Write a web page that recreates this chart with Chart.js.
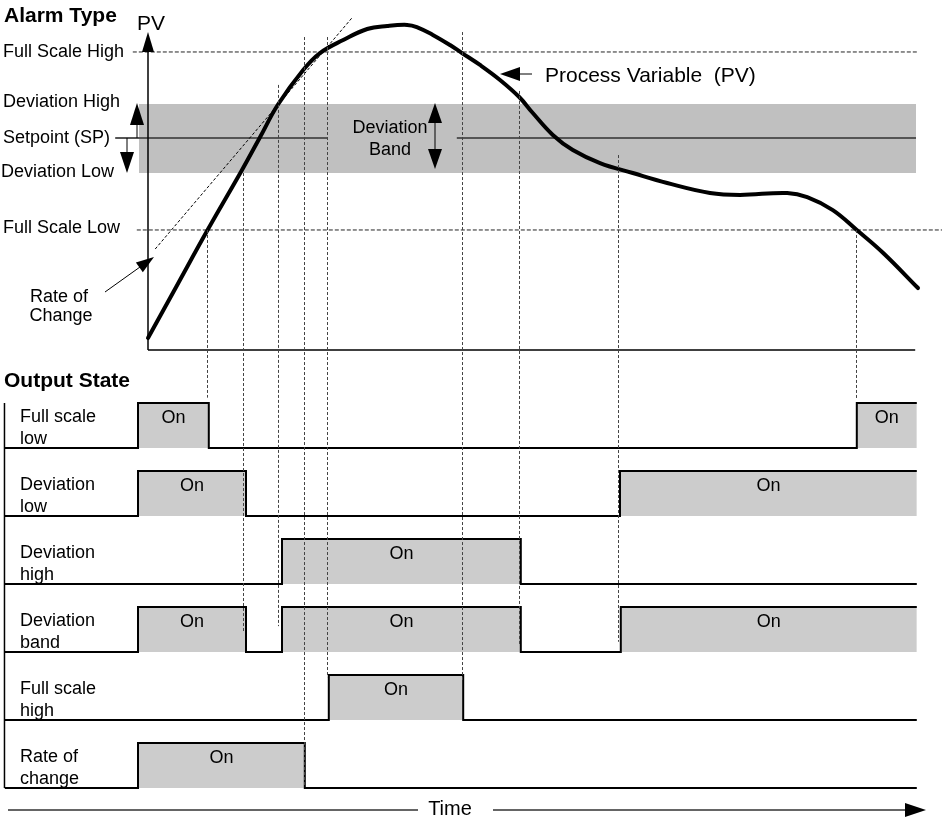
<!DOCTYPE html>
<html>
<head>
<meta charset="utf-8">
<script src="https://cdn.jsdelivr.net/npm/chart.js@4.4.1/dist/chart.umd.min.js"></script>
<style>
  body { margin: 0; background: #fff; }
  #wrap { width: 942px; height: 819px; position: relative; }
</style>
</head>
<body>
<div id="wrap"><canvas id="alarmChart"></canvas></div>
<script>
// time units: 0 = PV axis, ~96 = right end of the plot
const pvTimes  = [0, 3.69, 7.375, 11.75, 14, 16.25, 19.4, 21.5, 24.4, 27.4, 29.9, 32.4, 33.6, 35.6, 37.75, 39.25, 41.5, 44, 46.4, 48.1, 50.6, 53.1, 56.5, 60.6, 64.9, 70.25, 74, 79.9, 82.4, 85.6, 88.6, 91.9, 96.25];
const pvValues = [-60.7, -30.6, -0.6, 33.7, 52.1, 70.5, 89.9, 99.4, 106.7, 112.9, 114.6, 115.2, 114, 109.6, 103.9, 99.4, 92.7, 84.3, 74.7, 65.7, 53.4, 44.9, 37.6, 32, 26.4, 20.8, 19.7, 20.8, 18.5, 11.2, 0, -12.9, -32.6];

// alarm levels in PV units (full scale low = 0, full scale high = 100)
const fullScaleHigh = 100;
const fullScaleLow = 0;
const setpoint = 51.7;
const deviationHigh = 70.8;
const deviationLow = 32.0;
const pvFloor = -67.4;

// rate of change tangent: [time, PV]
const rateTangent = [[0.9, -10.7], [25.6, 119.7]];

// dashed guide lines: time, top end (PV), bottom end (row units)
const guideTimes   = [7.4, 11.9, 16.25, 19.5, 22.4, 39.25, 46.4, 58.75, 88.5];
const guideTops    = [0, 32, 81.5, 108.4, 108.4, 111.2, 78.1, 42.1, 0];
const guideBottoms = [-0.74, 2.71, 2.62, 4.96, 3.37, 3.44, 2.9, 2.85, -0.71];

// output states: [switch time, state]
const rowLabels = [["Full scale", "low"], ["Deviation", "low"], ["Deviation", "high"], ["Deviation", "band"], ["Full scale", "high"], ["Rate of", "change"]];
const fullScaleLowOut  = [[-1.25, 1], [7.6, 0], [88.6, 1]];
const deviationLowOut  = [[-1.25, 1], [12.25, 0], [59, 1]];
const deviationHighOut = [[16.75, 1], [46.6, 0]];
const deviationBandOut = [[-1.25, 1], [12.25, 0], [16.75, 1], [46.6, 0], [59.1, 1]];
const fullScaleHighOut = [[22.6, 1], [39.4, 0]];
const rateOfChangeOut  = [[-1.25, 1], [19.6, 0]];
const rowSteps = [fullScaleLowOut, deviationLowOut, deviationHighOut, deviationBandOut, fullScaleHighOut, rateOfChangeOut];
const rowStart = -17.9, rowEnd = 96.1, pulseHeight = 0.662;

const FONT = '"Liberation Sans", Arial, Helvetica, sans-serif';

function stepData(steps, i) {
  const pts = [{x: rowStart, y: i}];
  steps.forEach(([t, s]) => pts.push({x: t, y: i - s * pulseHeight}));
  pts.push({x: rowEnd, y: i - steps[steps.length - 1][1] * pulseHeight});
  return pts;
}

function line(data, extra) {
  return Object.assign({
    type: 'line', data: data, pointRadius: 0, borderColor: '#000',
    borderWidth: 1, fill: false, tension: 0, yAxisID: 'y'
  }, extra);
}

const datasets = [
  line([{x: -1.125, y: deviationHigh}, {x: 96, y: deviationHigh}],
       {order: 20, borderColor: 'rgba(0,0,0,0)', borderWidth: 0, backgroundColor: '#c0c0c0', fill: {value: deviationLow}}),
  line([{x: -4.1, y: setpoint}, {x: 22.4, y: setpoint}, {x: 30, y: null}, {x: 38.6, y: setpoint}, {x: 96, y: setpoint}],
       {order: 15, borderColor: '#555', borderWidth: 2, spanGaps: false}),
  line([{x: -1.9, y: fullScaleHigh}, {x: 96.1, y: fullScaleHigh}], {order: 14, borderColor: '#222', borderDash: [4, 2]}),
  line([{x: -1.4, y: fullScaleLow}, {x: 99.3, y: fullScaleLow}], {order: 14, borderColor: '#222', borderDash: [4, 2]}),
  line([{x: 0, y: pvFloor}, {x: 0, y: fullScaleHigh}], {order: 13, borderWidth: 1.5}),
  line([{x: 0, y: pvFloor}, {x: 95.9, y: pvFloor}], {order: 13, borderWidth: 1.5}),
  line(rateTangent.map(p => ({x: p[0], y: p[1]})), {order: 12, borderDash: [3, 2]}),
  line([{x: -17.94, y: -pulseHeight}, {x: -17.94, y: 5}], {order: 11, borderWidth: 1.5, yAxisID: 'yr'})
];
rowSteps.forEach((steps, i) => {
  datasets.push(line(stepData(steps, i), {
    order: 5, yAxisID: 'yr', stepped: 'before', borderWidth: 2,
    backgroundColor: '#cccccc', fill: {value: i}
  }));
});
datasets.push(line(pvTimes.map((t, i) => ({x: t, y: pvValues[i]})),
  {order: 0, borderWidth: 4, tension: 0.4, borderCapStyle: 'round', borderJoinStyle: 'round'}));

function arrowHead(ctx, x1, y1, x2, y2, len, half) {
  const a = Math.atan2(y2 - y1, x2 - x1);
  ctx.beginPath();
  ctx.moveTo(x2, y2);
  ctx.lineTo(x2 - len * Math.cos(a) + half * Math.sin(a), y2 - len * Math.sin(a) - half * Math.cos(a));
  ctx.lineTo(x2 - len * Math.cos(a) - half * Math.sin(a), y2 - len * Math.sin(a) + half * Math.cos(a));
  ctx.closePath();
  ctx.fill();
}
function arrow(ctx, x1, y1, x2, y2, len, half, w) {
  const a = Math.atan2(y2 - y1, x2 - x1);
  ctx.lineWidth = w || 1;
  ctx.beginPath();
  ctx.moveTo(x1, y1);
  ctx.lineTo(x2 - (len - 1) * Math.cos(a), y2 - (len - 1) * Math.sin(a));
  ctx.stroke();
  arrowHead(ctx, x1, y1, x2, y2, len, half);
}

const decor = {
  id: 'decor',
  afterDatasetsDraw(chart) {
    const ctx = chart.ctx;
    const X = v => chart.scales.x.getPixelForValue(v);
    const Y = v => chart.scales.y.getPixelForValue(v);
    const R = v => chart.scales.yr.getPixelForValue(v);
    ctx.save();

    // dashed guides
    ctx.strokeStyle = '#444';
    ctx.lineWidth = 1;
    ctx.setLineDash([3, 2]);
    guideTimes.forEach((t, i) => {
      const x = Math.round(X(t)) + 0.5;
      ctx.beginPath();
      ctx.moveTo(x, Y(guideTops[i]));
      ctx.lineTo(x, R(guideBottoms[i]));
      ctx.stroke();
    });
    ctx.setLineDash([]);

    ctx.fillStyle = '#000';
    ctx.strokeStyle = '#000';
    // PV axis head
    arrowHead(ctx, X(0), Y(fullScaleHigh) + 20, X(0), Y(fullScaleHigh) - 20, 20, 6);
    // deviation high / low arrows
    arrow(ctx, 137, Y(setpoint), 137, Y(deviationHigh) - 1, 22, 7, 1);
    arrow(ctx, 127, Y(setpoint), 127, Y(deviationLow), 21, 7, 1);
    // deviation band double arrow
    arrow(ctx, 435, 136, 435, Y(deviationHigh) - 1, 20, 7, 1);
    arrow(ctx, 435, 136, 435, Y(deviationLow) - 4, 20, 7, 1);
    // process variable pointer
    arrow(ctx, 532, 74, 500, 74, 20, 7, 1);
    // rate of change pointer
    arrow(ctx, 105, 292, 154, 257, 18, 6, 1);
    // time arrow
    ctx.strokeStyle = '#333';
    ctx.lineWidth = 1.5;
    ctx.beginPath();
    ctx.moveTo(8, 810); ctx.lineTo(418, 810);
    ctx.moveTo(493, 810); ctx.lineTo(906, 810);
    ctx.stroke();
    arrowHead(ctx, 900, 810, 926, 810, 21, 7);

    // texts
    ctx.fillStyle = '#000';
    ctx.textBaseline = 'alphabetic';
    ctx.textAlign = 'left';
    ctx.font = 'bold 21px ' + FONT;
    ctx.fillText('Alarm Type', 4, 22);
    ctx.fillText('Output State', 4, 387);
    ctx.font = '21px ' + FONT;
    ctx.fillText('PV', 137, 30);
    ctx.fillText('Process Variable  (PV)', 545, 82);
    ctx.font = '18px ' + FONT;
    ctx.fillText('Full Scale High', 3, Y(fullScaleHigh) + 5);
    ctx.fillText('Deviation High', 3, Y(deviationHigh) + 3);
    ctx.fillText('Setpoint (SP)', 3, Y(setpoint) + 5);
    ctx.fillText('Deviation Low', 1, Y(deviationLow) + 4);
    ctx.fillText('Full Scale Low', 3, Y(fullScaleLow) + 3);
    ctx.textAlign = 'center';
    ctx.fillText('Rate of', 59, 302);
    ctx.fillText('Change', 61, 321);
    ctx.fillText('Deviation', 390, 133);
    ctx.fillText('Band', 390, 155);
    ctx.font = '20px ' + FONT;
    ctx.fillText('Time', 450, 815);

    // output rows
    ctx.font = '18px ' + FONT;
    rowLabels.forEach((lab, i) => {
      const top = R(i - pulseHeight);
      ctx.textAlign = 'left';
      ctx.fillText(lab[0], 20, top + 19);
      ctx.fillText(lab[1], 20, top + 41);
      ctx.textAlign = 'center';
      const steps = rowSteps[i];
      steps.forEach((s, k) => {
        if (s[1] !== 1) return;
        const end = k + 1 < steps.length ? steps[k + 1][0] : rowEnd;
        ctx.fillText('On', (X(s[0]) + X(end)) / 2, top + 20);
      });
    });
    ctx.restore();
  }
};

new Chart(document.getElementById('alarmChart'), {
  type: 'line',
  data: {datasets: datasets},
  options: {
    responsive: true,
    maintainAspectRatio: false,
    animation: false,
    events: [],
    layout: {padding: 0},
    plugins: {legend: {display: false}, tooltip: {enabled: false}},
    scales: {
      x: {type: 'linear', min: -18.5, max: 99.25, display: false},
      y: {type: 'linear', min: -330.9, max: 129.2, display: false},
      yr: {type: 'linear', min: -6.588, max: 5.456, reverse: true, display: false}
    }
  },
  plugins: [decor]
});
</script>
</body>
</html>
